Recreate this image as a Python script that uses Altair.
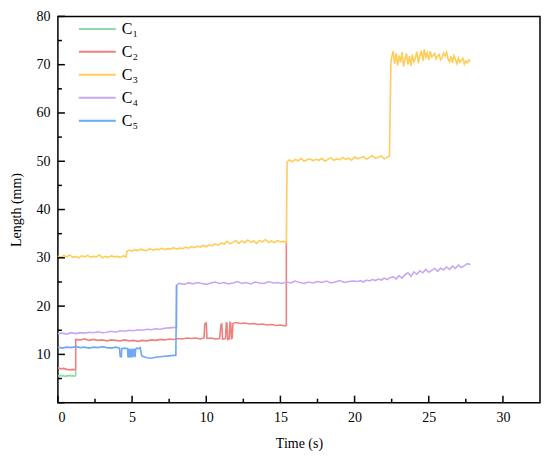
import altair as alt
import pandas as pd

series_names = ["C₁", "C₂", "C₃", "C₄", "C₅"]
series_colors = ["#8fd9a8", "#ee817d", "#ffcd58", "#c9a6f2", "#6fa8f3"]

c1 = [(0.0, 5.6), (0.1, 5.5), (0.2, 5.7), (0.3, 5.5), (0.4, 5.6), (0.5, 5.4), (0.6, 5.6),
      (0.7, 5.5), (0.8, 5.7), (0.9, 5.5), (1.0, 5.6), (1.1, 5.5), (1.2, 5.6), (1.2, 6.6)]

c2 = [(0.0, 7.3), (0.2, 7.0), (0.4, 7.1), (0.6, 6.9), (0.8, 6.8), (1.0, 6.9), (1.2, 6.8), (1.2, 13.1),
      (1.5, 13.0), (1.8, 13.2), (2.1, 12.9), (2.4, 13.1), (2.7, 12.9), (3.0, 13.0), (3.3, 12.8),
      (3.6, 13.0), (3.9, 12.9), (4.2, 12.8), (4.5, 13.0), (4.8, 12.8), (5.1, 12.9), (5.4, 12.7),
      (5.7, 12.9), (6.0, 12.8), (6.3, 13.0), (6.6, 12.9), (6.9, 13.1), (7.2, 13.0), (7.5, 13.2),
      (7.8, 13.1), (8.1, 13.3), (8.4, 13.2), (8.7, 13.4), (9.0, 13.3), (9.3, 13.4), (9.6, 13.2),
      (9.85, 13.4), (9.9, 16.3), (10.0, 16.5), (10.05, 13.3), (10.3, 13.4), (10.6, 13.2),
      (10.9, 13.3), (11.0, 16.2), (11.05, 16.3), (11.1, 13.2), (11.3, 13.3), (11.35, 16.5),
      (11.4, 16.4), (11.45, 13.1), (11.55, 13.2), (11.6, 16.6), (11.65, 16.5), (11.7, 13.3),
      (11.75, 13.4), (11.8, 16.4), (12.0, 16.6), (12.3, 16.4), (12.6, 16.5), (12.9, 16.3),
      (13.2, 16.4), (13.5, 16.2), (13.8, 16.3), (14.1, 16.1), (14.4, 16.2), (14.7, 16.0),
      (15.0, 16.1), (15.3, 15.9), (15.4, 16.0), (15.4, 33.0)]

c3 = [(0.0, 30.4), (0.2, 30.1), (0.4, 30.5), (0.6, 30.2), (0.8, 30.6), (1.0, 30.1), (1.2, 30.3),
      (1.4, 30.0), (1.6, 30.4), (1.8, 30.2), (2.0, 30.5), (2.2, 30.1), (2.4, 30.3), (2.6, 30.2),
      (2.8, 30.6), (3.0, 30.0), (3.2, 30.3), (3.4, 30.1), (3.6, 30.4), (3.8, 30.2), (4.0, 30.3),
      (4.2, 30.1), (4.4, 30.4), (4.6, 30.2), (4.65, 31.3),
      (4.8, 31.6), (5.0, 31.4), (5.2, 31.7), (5.4, 31.5), (5.6, 31.8), (5.8, 31.6), (6.0, 31.5),
      (6.2, 31.9), (6.4, 31.6), (6.6, 31.8), (6.8, 31.7), (7.0, 32.0), (7.2, 31.7), (7.4, 31.9),
      (7.6, 31.8), (7.8, 32.1), (8.0, 31.8), (8.2, 32.0), (8.4, 31.9), (8.6, 32.2), (8.8, 32.0),
      (9.0, 32.3), (9.2, 32.1), (9.4, 32.4), (9.6, 32.2), (9.8, 32.6), (10.0, 32.3), (10.2, 32.7),
      (10.4, 32.5), (10.6, 32.9), (10.8, 32.6), (11.0, 33.1), (11.2, 32.8), (11.4, 33.4),
      (11.6, 32.9), (11.8, 33.2), (12.0, 33.6), (12.2, 33.0), (12.4, 33.5), (12.6, 33.1),
      (12.8, 33.7), (13.0, 33.2), (13.2, 33.5), (13.4, 33.0), (13.6, 33.6), (13.8, 33.3),
      (14.0, 33.8), (14.2, 33.2), (14.4, 33.5), (14.6, 33.1), (14.8, 33.6), (15.0, 33.3),
      (15.2, 33.4), (15.4, 33.2), (15.45, 49.8),
      (15.6, 50.3), (15.8, 49.9), (16.0, 50.4), (16.2, 50.1), (16.4, 50.6), (16.6, 50.0),
      (16.8, 50.3), (17.0, 50.5), (17.2, 50.1), (17.4, 50.4), (17.6, 50.2), (17.8, 50.6),
      (18.0, 50.0), (18.2, 50.4), (18.4, 50.7), (18.6, 50.2), (18.8, 50.5), (19.0, 50.3),
      (19.2, 50.8), (19.4, 50.4), (19.6, 50.6), (19.8, 50.2), (20.0, 50.9), (20.2, 50.5),
      (20.4, 50.7), (20.6, 51.0), (20.8, 50.4), (21.0, 50.8), (21.2, 51.2), (21.4, 50.6),
      (21.6, 50.9), (21.8, 51.1), (22.0, 50.5), (22.2, 50.8), (22.35, 51.1), (22.45, 70.5),
      (22.5, 71.5), (22.6, 72.8), (22.7, 70.2), (22.8, 72.4), (22.9, 69.8), (23.0, 71.9),
      (23.1, 70.5), (23.2, 72.6), (23.3, 69.6), (23.4, 71.2), (23.5, 72.3), (23.6, 70.0),
      (23.7, 71.8), (23.8, 69.7), (23.9, 72.1), (24.0, 70.6), (24.1, 71.4), (24.2, 72.7),
      (24.3, 70.3), (24.4, 71.9), (24.5, 72.9), (24.6, 70.8), (24.7, 73.2), (24.8, 71.5),
      (24.9, 72.4), (25.0, 71.0), (25.1, 72.8), (25.2, 71.6), (25.3, 71.9), (25.4, 72.3),
      (25.5, 71.2), (25.6, 71.8), (25.7, 72.1), (25.8, 71.0), (25.9, 71.5), (26.0, 72.4),
      (26.1, 71.8), (26.2, 72.6), (26.3, 71.2), (26.4, 70.6), (26.5, 71.7), (26.6, 70.4),
      (26.7, 71.9), (26.8, 71.1), (26.9, 70.2), (27.0, 71.4), (27.1, 70.5), (27.2, 70.9),
      (27.3, 71.3), (27.4, 70.1), (27.5, 70.8), (27.6, 70.4), (27.7, 71.0), (27.8, 70.6)]

c4 = [(0.0, 14.3), (0.3, 14.4), (0.6, 14.2), (0.9, 14.5), (1.2, 14.3), (1.5, 14.5), (1.8, 14.4),
      (2.1, 14.6), (2.4, 14.5), (2.7, 14.7), (3.0, 14.5), (3.3, 14.6), (3.6, 14.8), (3.9, 14.6),
      (4.2, 14.9), (4.5, 14.8), (4.8, 15.0), (5.1, 14.9), (5.4, 15.1), (5.7, 15.0), (6.0, 15.2),
      (6.3, 15.1), (6.6, 15.3), (6.9, 15.2), (7.2, 15.4), (7.5, 15.5), (7.9, 15.6), (8.0, 15.6),
      (8.0, 24.3), (8.1, 24.6),
      (8.2, 24.7), (8.5, 24.5), (8.8, 24.8), (9.1, 24.6), (9.4, 24.9), (9.7, 24.7), (10.0, 24.5),
      (10.3, 24.8), (10.6, 25.0), (10.9, 24.7), (11.2, 24.9), (11.5, 24.6), (11.8, 24.8),
      (12.1, 25.1), (12.4, 24.7), (12.7, 24.9), (13.0, 24.6), (13.3, 25.0), (13.6, 24.8),
      (13.9, 24.7), (14.2, 25.1), (14.5, 24.8), (14.8, 24.9), (15.1, 24.7), (15.4, 25.0),
      (15.7, 24.8), (16.0, 25.2), (16.3, 24.9), (16.6, 24.7), (16.9, 25.0), (17.2, 24.8),
      (17.5, 25.1), (17.8, 24.9), (18.1, 25.2), (18.4, 24.8), (18.7, 25.0), (19.0, 25.3),
      (19.3, 24.9), (19.6, 25.1), (19.9, 25.2),
      (20.2, 25.1), (20.4, 25.3), (20.6, 25.0), (20.8, 25.4), (21.0, 25.2), (21.2, 25.5),
      (21.4, 25.3), (21.6, 25.6), (21.8, 25.4), (22.0, 25.8), (22.2, 25.5), (22.4, 25.9),
      (22.6, 26.1), (22.8, 25.6), (23.0, 26.3), (23.2, 25.8), (23.4, 26.5), (23.6, 26.9),
      (23.8, 26.2), (24.0, 27.1), (24.2, 26.6), (24.4, 27.3), (24.6, 26.9), (24.8, 27.6),
      (25.0, 27.0), (25.2, 27.4), (25.4, 27.8), (25.6, 27.2), (25.8, 27.9), (26.0, 27.5),
      (26.2, 28.1), (26.4, 27.6), (26.6, 28.3), (26.8, 27.8), (27.0, 28.5), (27.2, 28.0),
      (27.4, 28.4), (27.6, 28.8), (27.8, 28.6)]

c5 = [(0.0, 11.5), (0.3, 11.3), (0.6, 11.5), (0.9, 11.4), (1.2, 11.6), (1.5, 11.4), (1.8, 11.5),
      (2.1, 11.3), (2.4, 11.5), (2.7, 11.4), (3.0, 11.6), (3.3, 11.4), (3.6, 11.3), (3.9, 11.5),
      (4.15, 11.3), (4.2, 9.6), (4.28, 9.5), (4.3, 11.2), (4.5, 11.3), (4.7, 11.2), (4.72, 9.4),
      (4.76, 11.1), (4.8, 9.3), (4.84, 11.2), (4.88, 9.5), (4.92, 11.0), (4.96, 9.3), (5.0, 11.2),
      (5.04, 9.4), (5.08, 11.1), (5.12, 9.6), (5.16, 11.2), (5.2, 9.4), (5.24, 11.0), (5.3, 11.3),
      (5.45, 11.2), (5.55, 11.4), (5.65, 9.7), (5.8, 9.5), (6.0, 9.3), (6.3, 9.2), (6.6, 9.4),
      (6.9, 9.5), (7.2, 9.6), (7.5, 9.7), (7.8, 9.8), (7.95, 9.8), (8.0, 24.4)]

x_major = [0, 5, 10, 15, 20, 25, 30]
x_minor = [2.5, 7.5, 12.5, 17.5, 22.5, 27.5]
y_major = [0, 10, 20, 30, 40, 50, 60, 70, 80]
y_minor = [5, 15, 25, 35, 45, 55, 65, 75]

rows = []
for name, pts in zip(series_names, [c1, c2, c3, c4, c5]):
    for i, (t, v) in enumerate(pts):
        rows.append({"series": name, "t": t, "v": v, "i": i})
df = pd.DataFrame(rows)

FONT = "Liberation Serif"
W, H = 483, 387

xscale = alt.Scale(domain=[0, 32.5], nice=False, zero=False)
yscale = alt.Scale(domain=[0, 80], nice=False)

lines = alt.Chart(df).mark_line(strokeWidth=1.6, interpolate="linear").encode(
    x=alt.X("t:Q", scale=xscale, title="Time (s)",
            axis=alt.Axis(values=x_major, grid=False, ticks=False, domain=False,
                          labelPadding=8, titlePadding=12)),
    y=alt.Y("v:Q", scale=yscale, title="Length (mm)",
            axis=alt.Axis(values=y_major, grid=False, ticks=False, domain=False,
                          labelPadding=8, titlePadding=12,
                          labelExpr="datum.value == 0 ? '' : datum.label")),
    color=alt.Color("series:N", scale=alt.Scale(domain=series_names, range=series_colors),
                    sort=series_names,
                    legend=alt.Legend(title=None, orient="none", legendX=29, legendY=2,
                                      padding=0, symbolType="M-2,0L2,0", symbolSize=342,
                                      symbolStrokeWidth=2, labelFont=FONT,
                                      labelFontSize=16, labelColor="black",
                                      labelOffset=14, rowPadding=4)),
    order="i:Q",
)

xmaj = alt.Chart(pd.DataFrame({"t": x_major})).mark_rule(color="black", strokeWidth=1.5).encode(
    x=alt.X("t:Q", scale=xscale), y=alt.value(H), y2=alt.value(H - 7))
xmin = alt.Chart(pd.DataFrame({"t": x_minor})).mark_rule(color="black", strokeWidth=1.5).encode(
    x=alt.X("t:Q", scale=xscale), y=alt.value(H), y2=alt.value(H - 4))
ymaj = alt.Chart(pd.DataFrame({"v": y_major})).mark_rule(color="black", strokeWidth=1.5).encode(
    y=alt.Y("v:Q", scale=yscale), x=alt.value(0), x2=alt.value(7))
ymin = alt.Chart(pd.DataFrame({"v": y_minor})).mark_rule(color="black", strokeWidth=1.5).encode(
    y=alt.Y("v:Q", scale=yscale), x=alt.value(0), x2=alt.value(4))

chart = alt.layer(lines, xmaj, xmin, ymaj, ymin).properties(
    width=W, height=H,
    autosize=alt.AutoSizeParams(type="none"),
    padding={"left": 50, "top": 8, "right": 2, "bottom": 55},
).configure_view(stroke="black", strokeWidth=1.5).configure_axis(
    labelFont=FONT, labelFontSize=14, labelColor="black",
    titleFont=FONT, titleFontSize=14, titleColor="black", titleFontWeight="normal",
)

chart.save("out.html", embed_options={"renderer": "svg", "actions": False})
